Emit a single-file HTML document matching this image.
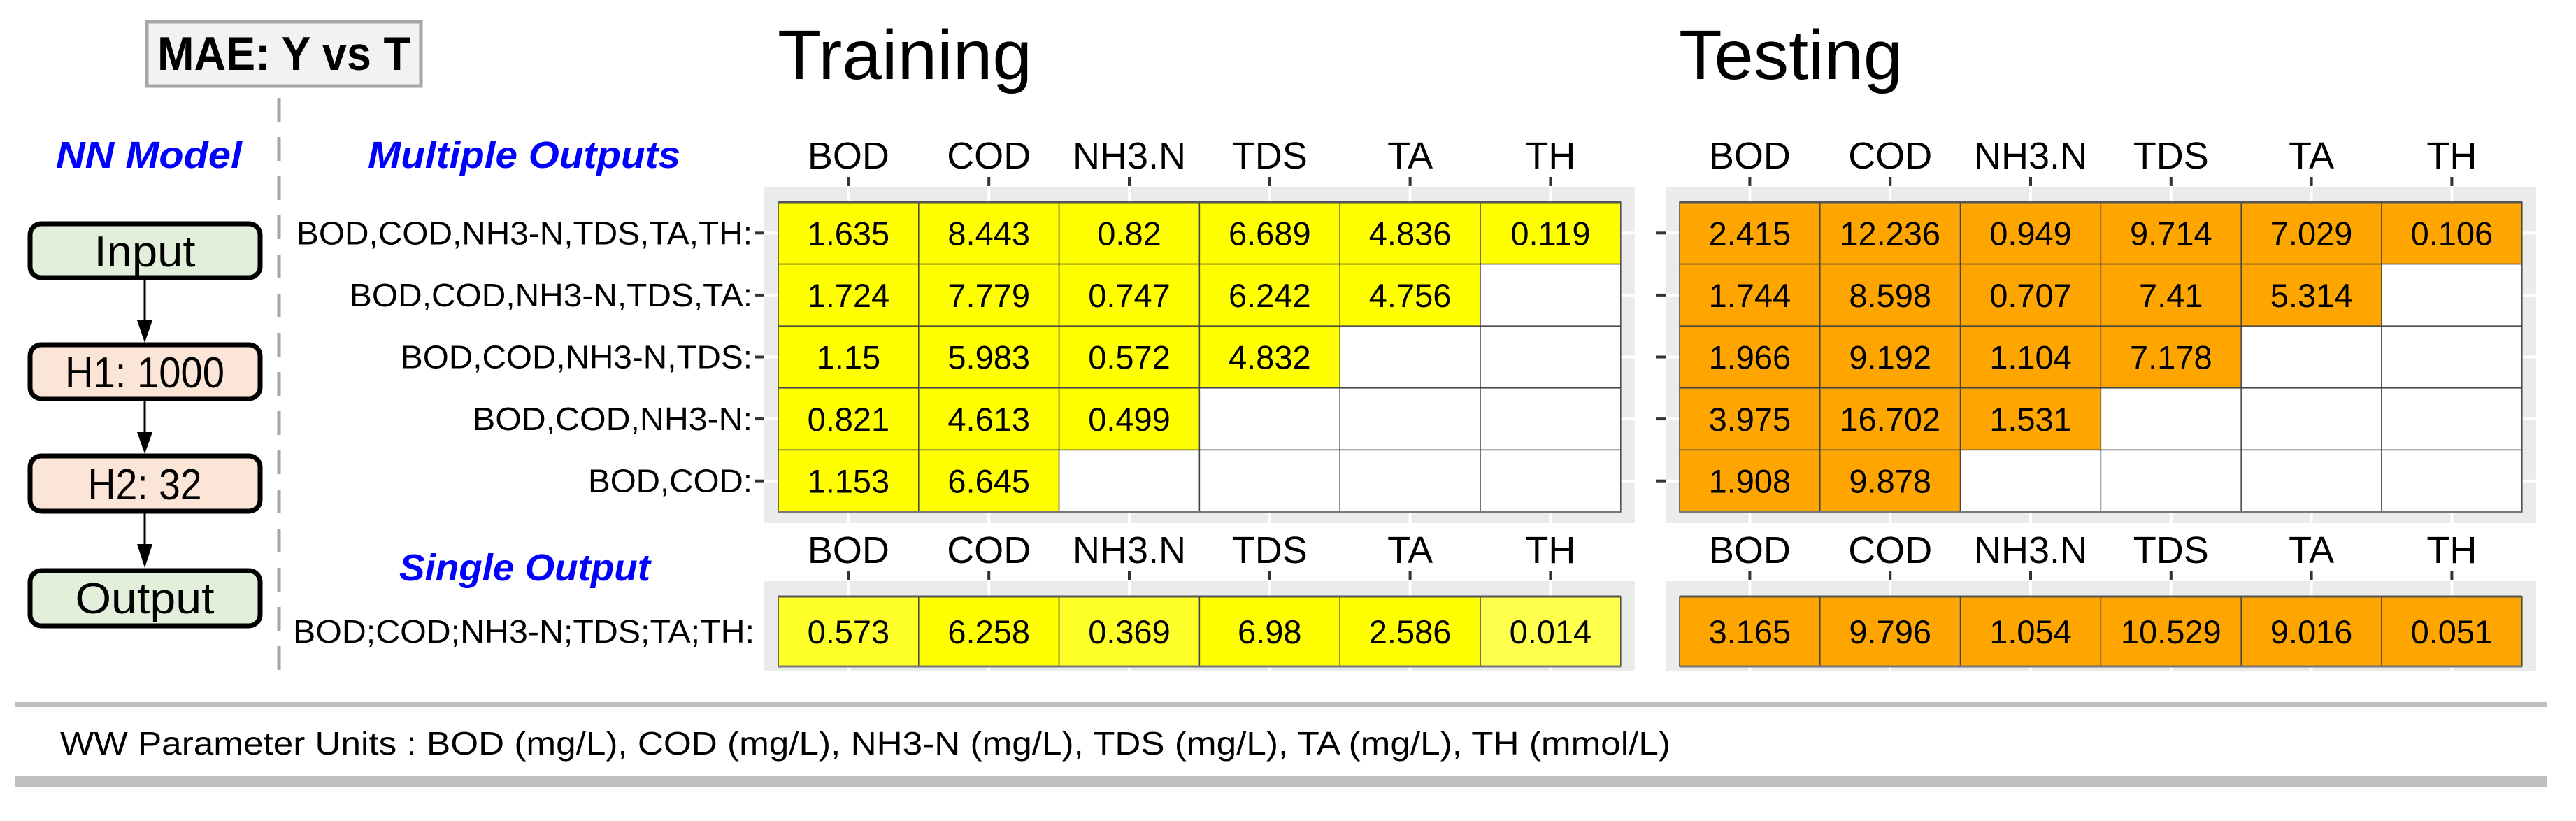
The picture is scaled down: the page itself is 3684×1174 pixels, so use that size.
<!DOCTYPE html>
<html><head><meta charset="utf-8"><style>
html,body{margin:0;padding:0;background:#fff;}
svg{display:block;font-family:"Liberation Sans",sans-serif;}
</style></head><body>
<svg id="fig" width="3684" height="1174" viewBox="0 0 3684 1174" xmlns="http://www.w3.org/2000/svg">
<g>
<rect x="210" y="31" width="392" height="92" fill="#f2f2f2" stroke="#a6a6a6" stroke-width="5"/>
<text x="225" y="100" font-size="68" font-weight="bold" textLength="362" lengthAdjust="spacingAndGlyphs">MAE: Y vs T</text>
</g>
<line x1="399" y1="140" x2="399" y2="975" stroke="#a6a6a6" stroke-width="5" stroke-dasharray="34,22"/>
<text x="80" y="240" font-size="54" font-weight="bold" font-style="italic" fill="#0000ff" textLength="266" lengthAdjust="spacingAndGlyphs">NN Model</text>
<text x="526" y="240" font-size="54" font-weight="bold" font-style="italic" fill="#0000ff" textLength="447" lengthAdjust="spacingAndGlyphs">Multiple Outputs</text>
<text x="571" y="830" font-size="54" font-weight="bold" font-style="italic" fill="#0000ff" textLength="359" lengthAdjust="spacingAndGlyphs">Single Output</text>
<text x="1112" y="113" font-size="100" textLength="364" lengthAdjust="spacingAndGlyphs">Training</text>
<text x="2401" y="113" font-size="100" textLength="320" lengthAdjust="spacingAndGlyphs">Testing</text>
<g>
<rect x="43" y="320" width="329" height="77" rx="16" fill="#e2efda" stroke="#000" stroke-width="7"/>
<text x="207" y="381" font-size="62" text-anchor="middle" textLength="145" lengthAdjust="spacingAndGlyphs">Input</text>
<line x1="207" y1="400" x2="207" y2="460" stroke="#000" stroke-width="3"/><polygon points="196,458 218,458 207,490" fill="#000"/>
<rect x="43" y="493" width="329" height="77" rx="16" fill="#fbe5d6" stroke="#000" stroke-width="7"/>
<text x="207" y="554" font-size="62" text-anchor="middle" textLength="228" lengthAdjust="spacingAndGlyphs">H1: 1000</text>
<line x1="207" y1="573" x2="207" y2="620" stroke="#000" stroke-width="3"/><polygon points="196,618 218,618 207,649" fill="#000"/>
<rect x="43" y="652" width="329" height="79" rx="16" fill="#fbe5d6" stroke="#000" stroke-width="7"/>
<text x="207" y="714" font-size="62" text-anchor="middle" textLength="163" lengthAdjust="spacingAndGlyphs">H2: 32</text>
<line x1="207" y1="734" x2="207" y2="780" stroke="#000" stroke-width="3"/><polygon points="196,778 218,778 207,812" fill="#000"/>
<rect x="43" y="816" width="329" height="79" rx="16" fill="#e2efda" stroke="#000" stroke-width="7"/>
<text x="207" y="877" font-size="62" text-anchor="middle" textLength="199" lengthAdjust="spacingAndGlyphs">Output</text>
</g>
<rect x="21" y="1004" width="3621" height="7" fill="#bfbfbf"/>
<text x="86" y="1079" font-size="46" textLength="2303" lengthAdjust="spacingAndGlyphs">WW Parameter Units : BOD (mg/L), COD (mg/L), NH3-N (mg/L), TDS (mg/L), TA (mg/L), TH (mmol/L)</text>
<rect x="21" y="1110" width="3621" height="15" fill="#bfbfbf"/>
<g id="charts"></g>
</svg>
<script>
const columns = ["BOD","COD","NH3.N","TDS","TA","TH"];
const rowLabels = ["BOD,COD,NH3-N,TDS,TA,TH:","BOD,COD,NH3-N,TDS,TA:","BOD,COD,NH3-N,TDS:","BOD,COD,NH3-N:","BOD,COD:"];
const rowLabelWidths = [652,576,503,400,235];
const trainMulti = [[1.635,8.443,0.82,6.689,4.836,0.119],[1.724,7.779,0.747,6.242,4.756],[1.15,5.983,0.572,4.832],[0.821,4.613,0.499],[1.153,6.645]];
const testMulti = [[2.415,12.236,0.949,9.714,7.029,0.106],[1.744,8.598,0.707,7.41,5.314],[1.966,9.192,1.104,7.178],[3.975,16.702,1.531],[1.908,9.878]];
const singleLabel = "BOD;COD;NH3-N;TDS;TA;TH:";
const trainSingle = [0.573,6.258,0.369,6.98,2.586,0.014];
const testSingle = [3.165,9.796,1.054,10.529,9.016,0.051];

const NS = "http://www.w3.org/2000/svg";
const root = document.getElementById("charts");
function mk(tag, attrs, parent){const e=document.createElementNS(NS,tag);for(const k in attrs)e.setAttribute(k,attrs[k]);parent.appendChild(e);return e;}
const CW = 200.8, RH = 88.6;
function xPos(x0,i){return x0+i*CW;}

function panel(name, x0, y0, rows, rh, showLabels, labels, widths, colorFn){
  const g = mk("g",{},root);
  
  
  const n = rows.length;
  const w = 6*CW, h = n*rh;
  mk("rect",{x:x0-20,y:y0-22,width:w+40,height:h+22+(n>1?16:6),fill:"#ebebeb"},g);
  for(let i=0;i<6;i++){
    const cx = xPos(x0,i)+CW/2;
    mk("line",{x1:cx,y1:y0-22,x2:cx,y2:y0+h+(n>1?16:6),stroke:"#fff",'stroke-width':4},g);
    mk("line",{x1:cx,y1:y0-36,x2:cx,y2:y0-23,stroke:"#333",'stroke-width':4},g);
    const t = mk("text",{x:cx,y:y0-48,'font-size':54,'text-anchor':'middle'},g);
    t.textContent = columns[i];
    
    
  }
  for(let j=0;j<n;j++){
    const cy = y0 + j*rh + rh/2;
    if(n>1){
      mk("line",{x1:x0-20,y1:cy,x2:x0+w+20,y2:cy,stroke:"#fff",'stroke-width':4},g);
      mk("line",{x1:x0-33,y1:cy,x2:x0-20,y2:cy,stroke:"#333",'stroke-width':4},g);
    }
    if(showLabels){
      const lt = mk("text",{x:n>1?x0-37:x0-34,y:cy+16,'font-size':46,'text-anchor':'end',textLength:widths[j],lengthAdjust:'spacingAndGlyphs'},g);
      lt.textContent = labels[j];
      
      
    }
    for(let i=0;i<6;i++){
      const v = rows[j][i];
      const r = mk("rect",{x:xPos(x0,i),y:y0+j*rh,width:CW,height:rh,fill:v===undefined?"#fff":colorFn(i,v),stroke:"#444",'stroke-width':1.5},g);
      
      
      if(v!==undefined){
        const vt = mk("text",{x:xPos(x0,i)+CW/2,y:y0+j*rh+rh/2+17,'font-size':47,'text-anchor':'middle'},g);
        vt.textContent = String(v);
        
        
      }
    }
  }
  mk("line",{x1:x0,y1:y0,x2:x0+w,y2:y0,stroke:"#555",'stroke-width':3},g);
  mk("line",{x1:x0,y1:y0+h,x2:x0+w,y2:y0+h,stroke:"#777",'stroke-width':3},g);
}
const yellow = ()=>"#ffff00";
const orange = ()=>"#ffa500";
const singleYellow = (i,v)=> v<0.1 ? "#ffff4d" : (v<0.6 ? "#ffff2a" : "#ffff00");
panel("training-multi-heatmap",1113,289,trainMulti,RH,true,rowLabels,rowLabelWidths,yellow);
panel("testing-multi-heatmap",2402,289,testMulti,RH,false,[],[],orange);
panel("training-single-heatmap",1113,853,[trainSingle],100,true,[singleLabel],[660],singleYellow);
panel("testing-single-heatmap",2402,853,[testSingle],100,false,[],[],orange);
</script>
</body></html>
